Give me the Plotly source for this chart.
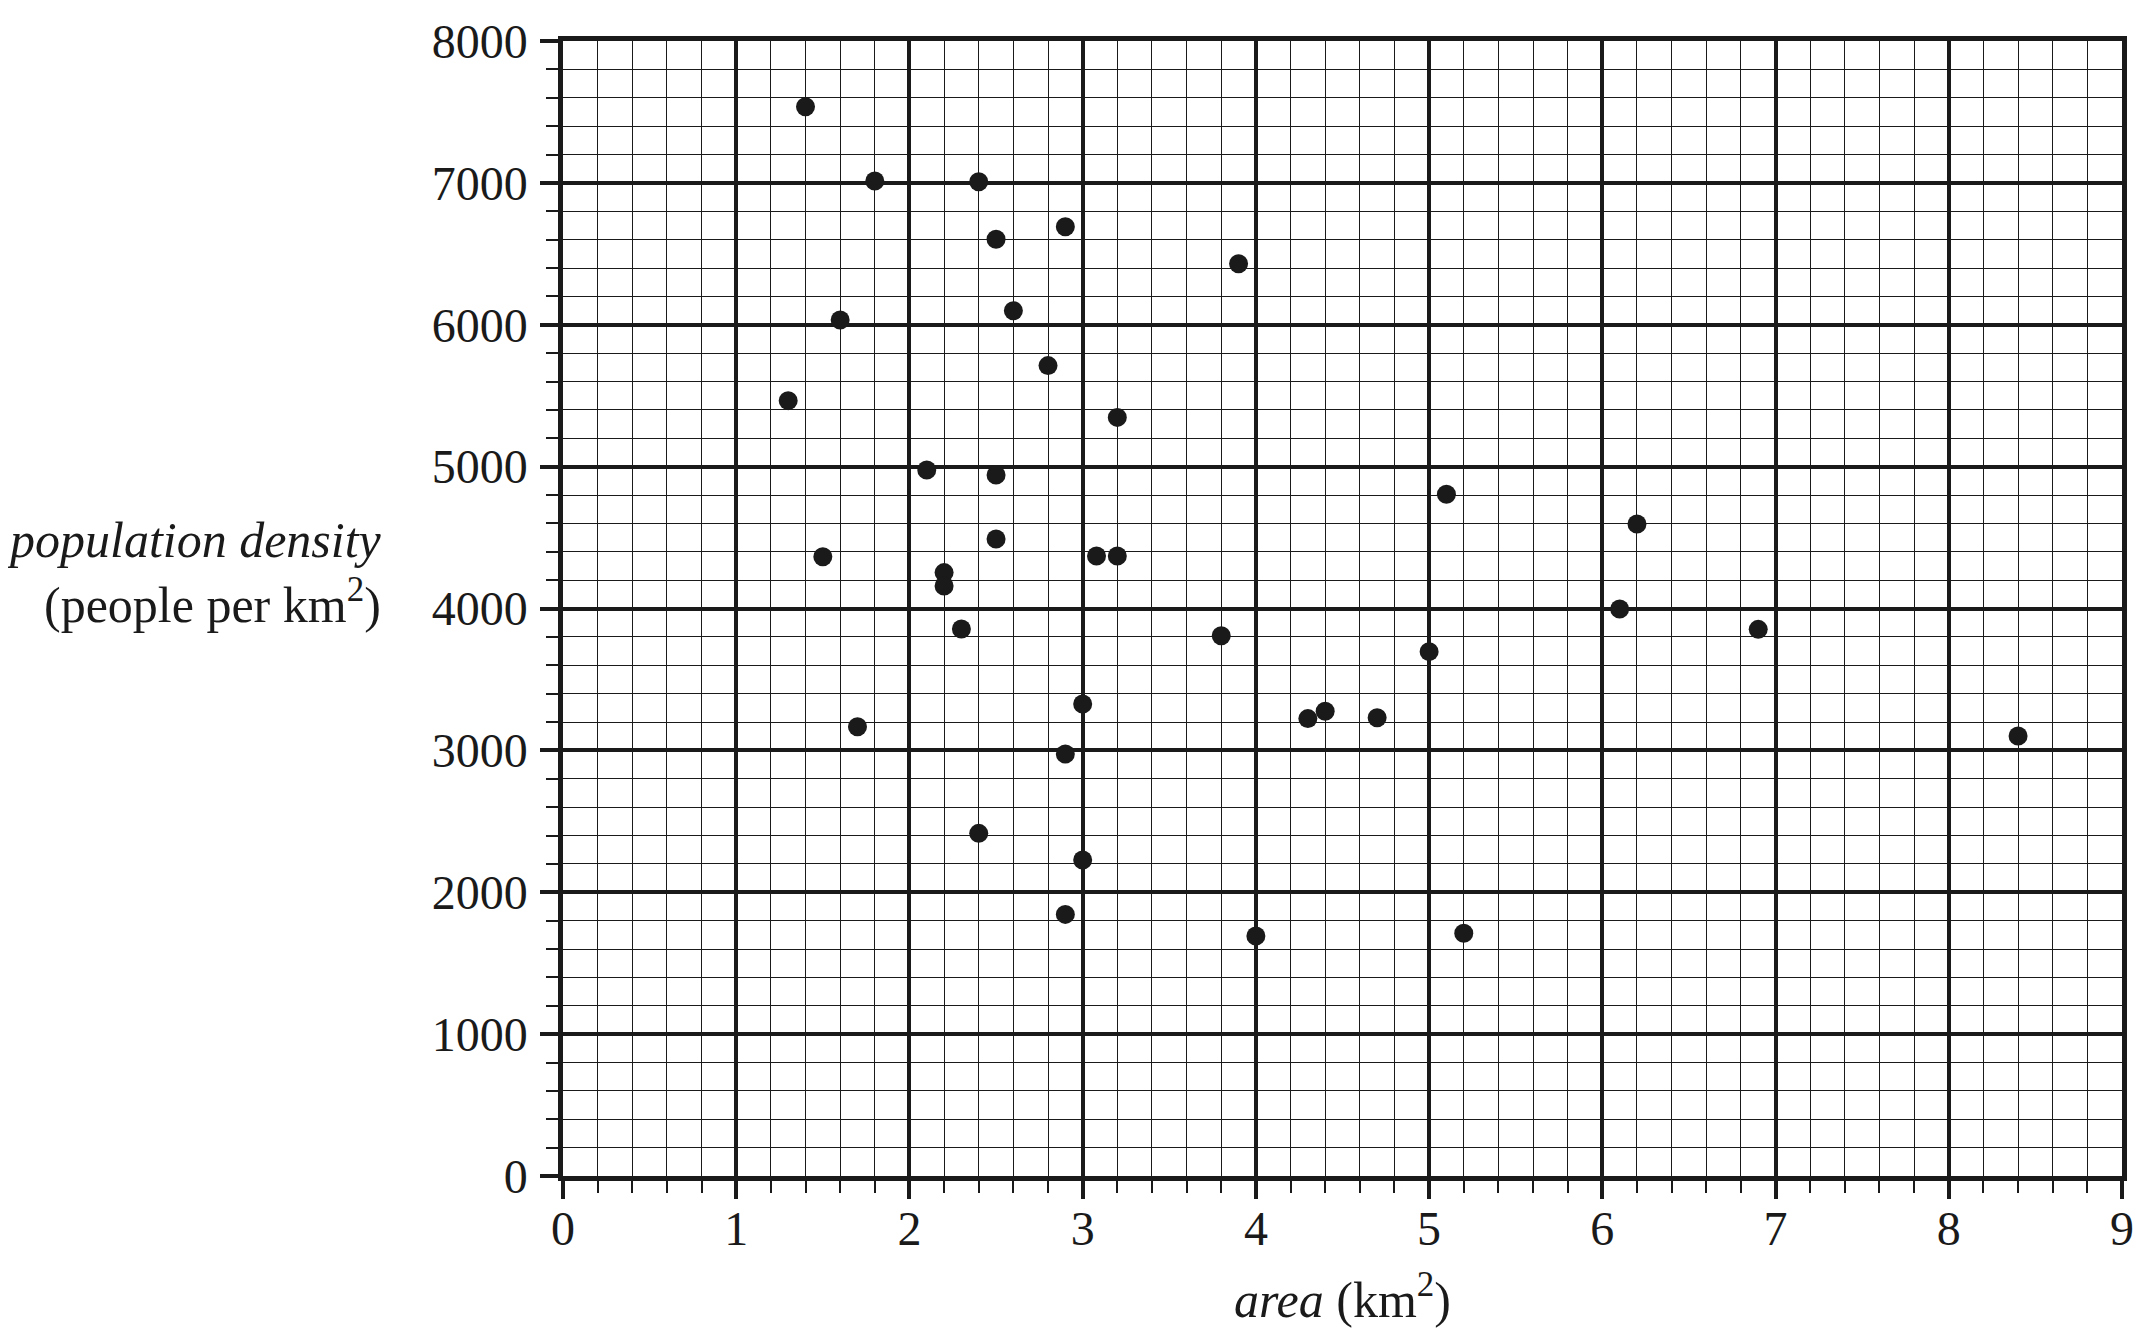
import plotly.graph_objects as go

area = [1.4, 1.8, 2.4, 2.9, 2.5, 3.9, 1.6, 2.6, 2.8, 1.3, 3.2, 2.1, 2.5, 5.1, 6.2,
        2.5, 1.5, 3.08, 3.2, 2.2, 2.2, 6.1, 2.3, 6.9, 3.8, 5.0, 3.0, 4.4, 4.3, 4.7,
        1.7, 8.4, 2.9, 2.4, 3.0, 2.9, 4.0, 5.2]
density = [7537, 7013, 7008, 6691, 6602, 6430, 6033, 6099, 5712, 5465, 5347, 4976, 4941, 4805, 4595,
           4490, 4365, 4370, 4370, 4253, 4159, 3996, 3856, 3853, 3808, 3696, 3327, 3276, 3224, 3230,
           3167, 3101, 2974, 2415, 2227, 1844, 1691, 1711]

x_ticks = [0, 1, 2, 3, 4, 5, 6, 7, 8, 9]
y_ticks = [0, 1000, 2000, 3000, 4000, 5000, 6000, 7000, 8000]

INK = "#1a1a1a"
FONT = "Liberation Serif"

fig = go.Figure()
fig.add_trace(go.Scatter(
    x=area, y=density, mode="markers",
    marker=dict(size=19, color=INK, line=dict(width=0)),
    hoverinfo="skip", showlegend=False,
))

axis_common = dict(
    showgrid=True, gridcolor=INK, gridwidth=3.5,
    showline=True, linecolor=INK, linewidth=4.5, mirror=True,
    ticks="outside", ticklen=18, tickwidth=3.5, tickcolor=INK,
    zeroline=False, automargin=False,
    tickfont=dict(family=FONT, size=48, color=INK),
    fixedrange=True,
)

# page body has an 8px default margin, so the figure is sized to compensate
fig.update_layout(
    width=2136, height=1333,
    margin=dict(l=555, r=22, t=33, b=165),
    paper_bgcolor="white", plot_bgcolor="white",
    font=dict(family=FONT, color=INK),
    xaxis=dict(
        range=[0, 9], tickmode="array", tickvals=x_ticks,
        ticktext=[str(v) for v in x_ticks],
        ticklabelstandoff=-11,
        minor=dict(dtick=0.2, showgrid=True, gridcolor=INK, gridwidth=1.2,
                   ticks="outside", ticklen=12, tickwidth=1.5, tickcolor=INK),
        **axis_common,
    ),
    yaxis=dict(
        range=[0, 8000], tickmode="array", tickvals=y_ticks,
        ticktext=[str(v) for v in y_ticks],
        ticklabelstandoff=3,
        minor=dict(dtick=200, showgrid=True, gridcolor=INK, gridwidth=1.2,
                   ticks="outside", ticklen=12, tickwidth=1.5, tickcolor=INK),
        **axis_common,
    ),
    annotations=[
        dict(text="<i>population density</i><br>(people per km<sup>2</sup>)",
             xref="paper", yref="paper", x=0, y=0.532, xshift=-179,
             xanchor="right", yanchor="middle", align="right", showarrow=False,
             font=dict(family=FONT, size=50, color=INK)),
        dict(text="<i>area</i> (km<sup>2</sup>)",
             xref="paper", yref="paper", x=0.5, y=0, yshift=-120,
             xanchor="center", yanchor="middle", showarrow=False,
             font=dict(family=FONT, size=50, color=INK)),
    ],
)

fig.write_html("out.html")
